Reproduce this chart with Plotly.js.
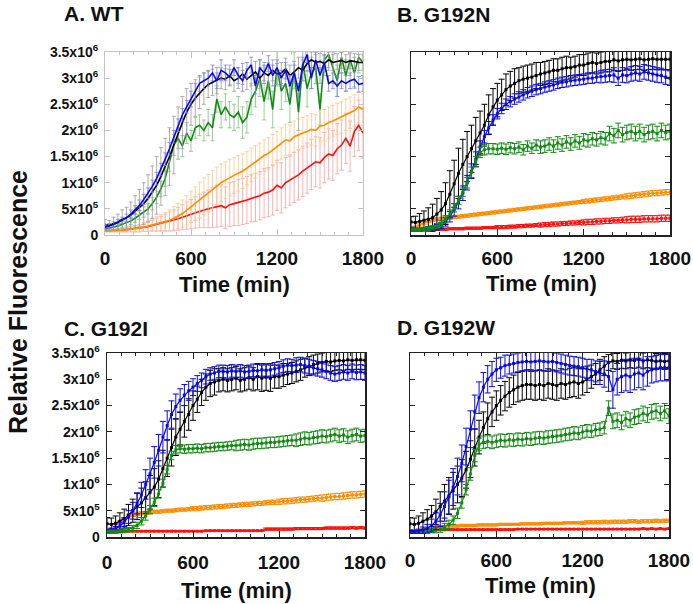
<!DOCTYPE html>
<html>
<head>
<meta charset="utf-8">
<script src="https://cdn.plot.ly/plotly-3.0.1.min.js"></script>
<style>html,body{margin:0;padding:0;background:#fff;}#chart{width:693px;height:604px;}</style>
</head>
<body>
<div id="chart"></div>
<script>
// Time points (min)
const time = [0,30,60,90,120,150,180,210,240,270,300,330,360,390,420,450,480,510,540,570,600,630,660,690,720,750,780,810,840,870,900,930,960,990,1020,1050,1080,1110,1140,1170,1200,1230,1260,1290,1320,1350,1380,1410,1440,1470,1500,1530,1560,1590,1620,1650,1680,1710,1740,1770,1800];

// Relative fluorescence, in units of 10^6
// ---- Panel A: WT ----
const aBlack = [0.20,0.18,0.22,0.25,0.30,0.33,0.38,0.45,0.52,0.60, 0.70,0.82,0.95,1.12,1.30,1.50,1.72,1.95,2.15,2.35, 2.50,2.62,2.72,2.80,2.88,2.92,2.95,3.00,2.98,3.05, 2.95,3.00,3.08,2.98,3.05,3.12,3.00,3.10,3.05,3.15, 3.08,3.10,3.18,3.05,3.12,3.20,3.15,3.28,3.35,3.30, 3.32,3.28,3.35,3.30,3.32,3.34,3.30,3.33,3.32,3.30,3.30];
const aBlackErr = [0.10,0.10,0.12,0.15,0.18,0.20,0.25,0.30,0.35,0.40, 0.45,0.50,0.55,0.55,0.55,0.55,0.55,0.50,0.50,0.45, 0.40,0.35,0.30,0.30,0.25,0.25,0.25,0.20,0.20,0.20, 0.20,0.20,0.20,0.20,0.20,0.20,0.20,0.20,0.20,0.20, 0.20,0.20,0.20,0.20,0.20,0.20,0.20,0.15,0.15,0.15, 0.15,0.15,0.15,0.15,0.15,0.15,0.15,0.15,0.15,0.15,0.15];
const aBlue = [0.15,0.17,0.20,0.24,0.28,0.33,0.40,0.48,0.57,0.68, 0.80,0.93,1.08,1.25,1.45,1.65,1.88,2.10,2.30,2.45, 2.60,2.75,2.90,2.95,3.00,3.10,2.95,3.15,3.10,3.02, 3.20,3.05,2.95,3.15,3.25,2.85,3.20,3.10,3.28,3.05, 3.20,3.00,3.15,2.85,3.10,2.75,3.25,3.45,3.00,3.35, 3.05,3.30,2.90,2.95,2.85,2.95,2.90,2.95,2.98,2.88,2.90];
const aBlueErr = [0.05,0.05,0.05,0.06,0.06,0.07,0.08,0.08,0.10,0.10, 0.10,0.12,0.12,0.12,0.12,0.12,0.12,0.12,0.12,0.12, 0.15,0.15,0.15,0.15,0.15,0.15,0.15,0.20,0.15,0.15, 0.15,0.15,0.20,0.15,0.15,0.15,0.15,0.15,0.15,0.20, 0.15,0.15,0.15,0.20,0.15,0.15,0.15,0.15,0.20,0.15, 0.15,0.15,0.15,0.15,0.20,0.15,0.15,0.15,0.15,0.15,0.15];
const aGreen = [0.12,0.13,0.15,0.17,0.20,0.23,0.27,0.32,0.38,0.44, 0.50,0.60,0.72,0.88,1.08,1.40,1.72,1.85,1.70,1.95, 1.80,2.05,2.10,2.00,2.15,2.05,2.60,2.30,2.45,2.30, 2.25,2.35,2.15,2.25,2.60,2.75,3.00,2.55,2.95,2.40, 3.20,2.75,2.90,2.50,3.15,2.35,3.30,2.80,3.10,3.20, 2.40,3.35,3.45,3.20,2.95,3.40,3.05,3.35,3.10,3.40,3.30];
const aGreenErr = [0.05,0.05,0.05,0.05,0.06,0.06,0.07,0.08,0.08,0.10, 0.10,0.12,0.12,0.15,0.15,0.18,0.20,0.20,0.20,0.20, 0.20,0.20,0.20,0.20,0.25,0.25,0.25,0.25,0.25,0.25, 0.25,0.30,0.30,0.30,0.30,0.30,0.35,0.35,0.35,0.35, 0.35,0.35,0.35,0.35,0.35,0.35,0.35,0.35,0.30,0.30, 0.30,0.30,0.30,0.30,0.30,0.30,0.30,0.30,0.30,0.30,0.30];
const aOrange = [0.08,0.08,0.08,0.09,0.09,0.10,0.11,0.12,0.13,0.15, 0.17,0.19,0.21,0.23,0.25,0.28,0.32,0.36,0.41,0.47, 0.54,0.60,0.67,0.74,0.80,0.87,0.94,1.00,1.05,1.10, 1.14,1.18,1.22,1.28,1.34,1.40,1.46,1.52,1.56,1.62, 1.68,1.75,1.82,1.80,1.88,1.92,1.95,1.98,2.02,2.00, 2.08,2.10,2.15,2.18,2.22,2.25,2.30,2.34,2.38,2.45,2.40];
const aOrangeErr = [0.02,0.02,0.02,0.03,0.03,0.04,0.05,0.06,0.07,0.08, 0.10,0.12,0.14,0.16,0.18,0.20,0.22,0.24,0.26,0.28, 0.30,0.32,0.34,0.35,0.36,0.36,0.36,0.36,0.35,0.35, 0.34,0.34,0.33,0.32,0.32,0.31,0.30,0.30,0.30,0.30, 0.30,0.30,0.30,0.30,0.30,0.30,0.30,0.30,0.30,0.30, 0.30,0.30,0.30,0.30,0.30,0.30,0.30,0.30,0.30,0.30,0.30];
const aRed = [0.08,0.08,0.08,0.09,0.09,0.10,0.11,0.12,0.13,0.15, 0.16,0.18,0.20,0.22,0.24,0.26,0.28,0.31,0.34,0.37, 0.40,0.43,0.46,0.48,0.50,0.52,0.55,0.56,0.52,0.58, 0.60,0.62,0.64,0.67,0.70,0.72,0.75,0.80,0.82,0.86, 0.95,0.90,1.00,1.05,1.10,1.15,1.22,1.28,1.35,1.40, 1.38,1.48,1.55,1.52,1.65,1.72,1.85,1.70,1.98,2.10,1.95];
const aRedErr = [0.02,0.02,0.02,0.03,0.03,0.04,0.05,0.06,0.07,0.08, 0.09,0.10,0.12,0.14,0.16,0.18,0.20,0.22,0.24,0.26, 0.28,0.30,0.32,0.34,0.36,0.38,0.40,0.40,0.40,0.42, 0.42,0.44,0.44,0.45,0.45,0.46,0.46,0.47,0.47,0.48, 0.48,0.48,0.48,0.48,0.48,0.48,0.48,0.48,0.48,0.48, 0.48,0.48,0.48,0.48,0.48,0.48,0.48,0.48,0.48,0.48,0.48];

// ---- Panel B: G192N ----
const bBlack = [0.25,0.24,0.26,0.28,0.30,0.33,0.40,0.48,0.60,0.78, 0.98,1.18,1.35,1.50,1.65,1.80,1.95,2.10,2.30,2.45, 2.58,2.68,2.78,2.85,2.90,2.95,2.98,3.00,3.02,3.05, 3.08,3.10,3.12,3.15,3.15,3.18,3.20,3.20,3.22,3.25, 3.25,3.28,3.30,3.28,3.30,3.32,3.32,3.35,3.33,3.35, 3.36,3.35,3.36,3.37,3.35,3.36,3.37,3.36,3.36,3.36,3.36];
const bBlackErr = [0.10,0.12,0.15,0.18,0.22,0.26,0.30,0.35,0.40,0.45, 0.45,0.48,0.48,0.48,0.45,0.45,0.42,0.40,0.38,0.35, 0.32,0.30,0.30,0.28,0.28,0.25,0.25,0.25,0.25,0.25, 0.22,0.22,0.22,0.22,0.22,0.22,0.22,0.20,0.20,0.20, 0.20,0.20,0.20,0.20,0.20,0.20,0.20,0.20,0.20,0.20, 0.20,0.20,0.20,0.20,0.20,0.20,0.20,0.20,0.20,0.20,0.20];
const bBlue = [0.10,0.10,0.10,0.11,0.12,0.13,0.15,0.18,0.25,0.35, 0.48,0.62,0.80,1.00,1.22,1.45,1.68,1.88,2.05,2.20, 2.32,2.42,2.50,2.55,2.60,2.64,2.68,2.72,2.75,2.78, 2.80,2.83,2.85,2.87,2.90,2.92,2.93,2.95,2.96,2.97, 2.98,3.00,3.00,3.02,3.03,3.04,3.05,3.06,3.00,3.06, 3.05,3.08,3.10,3.08,3.12,3.10,3.08,3.06,3.05,3.02,3.00];
const bBlueErr = [0.03,0.03,0.03,0.03,0.04,0.04,0.05,0.06,0.08,0.10, 0.12,0.12,0.14,0.14,0.14,0.14,0.12,0.12,0.12,0.10, 0.10,0.10,0.10,0.10,0.10,0.10,0.10,0.10,0.10,0.10, 0.10,0.10,0.10,0.10,0.10,0.10,0.10,0.10,0.10,0.10, 0.10,0.10,0.10,0.10,0.12,0.12,0.12,0.14,0.14,0.14, 0.14,0.14,0.14,0.14,0.14,0.14,0.14,0.14,0.14,0.14,0.14];
const bGreen = [0.10,0.10,0.10,0.11,0.12,0.14,0.17,0.22,0.30,0.40, 0.52,0.66,0.82,1.00,1.20,1.40,1.58,1.63,1.65,1.65, 1.64,1.66,1.64,1.67,1.65,1.68,1.63,1.70,1.66,1.72, 1.68,1.70,1.74,1.70,1.76,1.72,1.78,1.74,1.80,1.76, 1.82,1.80,1.84,1.82,1.86,1.84,1.94,1.90,2.00,1.92, 1.96,1.98,1.94,1.98,1.92,1.96,1.98,1.94,2.00,1.96,1.98];
const bGreenErr = [0.03,0.03,0.03,0.03,0.04,0.04,0.05,0.06,0.07,0.08, 0.08,0.08,0.08,0.10,0.10,0.10,0.10,0.10,0.10,0.10, 0.10,0.10,0.10,0.10,0.10,0.10,0.10,0.10,0.10,0.10, 0.12,0.12,0.12,0.12,0.12,0.12,0.12,0.12,0.12,0.12, 0.12,0.12,0.12,0.12,0.12,0.12,0.14,0.14,0.14,0.14, 0.14,0.14,0.14,0.14,0.14,0.14,0.14,0.14,0.14,0.14,0.14];
const bOrange = [0.12,0.15,0.19,0.23,0.27,0.29,0.30,0.31,0.32,0.33, 0.34,0.35,0.36,0.37,0.38,0.39,0.40,0.41,0.42,0.43, 0.44,0.45,0.46,0.47,0.48,0.49,0.50,0.51,0.52,0.53, 0.54,0.55,0.56,0.57,0.58,0.59,0.60,0.61,0.62,0.63, 0.64,0.65,0.66,0.67,0.68,0.69,0.70,0.71,0.72,0.73, 0.74,0.75,0.76,0.77,0.78,0.79,0.80,0.80,0.81,0.82,0.82];
const bOrangeErr = [0.02,0.02,0.02,0.02,0.03,0.03,0.03,0.03,0.03,0.03, 0.03,0.03,0.03,0.03,0.03,0.03,0.03,0.03,0.03,0.03, 0.03,0.03,0.03,0.03,0.03,0.03,0.03,0.03,0.03,0.03, 0.03,0.03,0.03,0.03,0.03,0.03,0.03,0.03,0.03,0.03, 0.04,0.04,0.04,0.04,0.04,0.04,0.04,0.04,0.04,0.04, 0.05,0.05,0.05,0.05,0.05,0.05,0.05,0.05,0.05,0.05,0.05];
const bRed = [0.10,0.10,0.10,0.10,0.10,0.11,0.11,0.11,0.11,0.12, 0.12,0.12,0.12,0.13,0.13,0.13,0.13,0.14,0.14,0.14, 0.15,0.15,0.15,0.16,0.16,0.17,0.17,0.18,0.18,0.19, 0.19,0.20,0.20,0.21,0.21,0.22,0.22,0.23,0.23,0.24, 0.24,0.25,0.25,0.26,0.26,0.27,0.27,0.28,0.28,0.29, 0.29,0.30,0.30,0.30,0.31,0.31,0.31,0.31,0.32,0.32,0.32];
const bRedErr = [0.02,0.02,0.02,0.02,0.02,0.02,0.02,0.02,0.02,0.02, 0.02,0.02,0.02,0.02,0.02,0.02,0.02,0.02,0.02,0.02, 0.03,0.03,0.03,0.03,0.03,0.03,0.03,0.03,0.03,0.03, 0.04,0.04,0.04,0.04,0.04,0.04,0.04,0.04,0.04,0.04, 0.05,0.05,0.05,0.05,0.05,0.05,0.05,0.05,0.05,0.05, 0.06,0.06,0.06,0.06,0.06,0.06,0.06,0.06,0.06,0.06,0.06];

// ---- Panel C: G192I ----
const cBlack = [0.25,0.24,0.26,0.30,0.35,0.42,0.50,0.58,0.65,0.75, 0.85,0.95,1.10,1.30,1.50,1.70,1.90,2.05,2.20,2.33, 2.50,2.62,2.75,2.85,2.92,2.95,2.98,3.00,2.98,3.00, 3.02,2.98,3.00,3.03,3.00,3.05,3.02,3.04,3.02,3.05, 3.05,3.08,3.10,3.12,3.15,3.18,3.22,3.25,3.28,3.30, 3.32,3.34,3.33,3.35,3.36,3.35,3.37,3.36,3.37,3.37,3.36];
const cBlackErr = [0.12,0.12,0.14,0.16,0.18,0.20,0.22,0.25,0.28,0.30, 0.32,0.35,0.35,0.35,0.35,0.35,0.35,0.32,0.30,0.30, 0.28,0.25,0.25,0.25,0.25,0.25,0.22,0.22,0.22,0.22, 0.22,0.22,0.22,0.22,0.22,0.25,0.25,0.25,0.25,0.22, 0.22,0.22,0.20,0.20,0.20,0.20,0.18,0.18,0.18,0.18, 0.18,0.18,0.18,0.18,0.18,0.18,0.18,0.18,0.18,0.18,0.18];
const cBlue = [0.12,0.13,0.16,0.21,0.28,0.38,0.50,0.64,0.80,1.00, 1.20,1.42,1.65,1.90,2.12,2.33,2.48,2.60,2.70,2.78, 2.85,2.92,2.98,3.05,3.10,3.12,3.15,3.15,3.14,3.16, 3.15,3.16,3.14,3.15,3.17,3.16,3.18,3.17,3.18,3.20, 3.22,3.25,3.27,3.26,3.27,3.28,3.26,3.24,3.22,3.20, 3.18,3.15,3.12,3.10,3.12,3.14,3.12,3.15,3.13,3.14,3.12];
const cBlueErr = [0.03,0.03,0.04,0.06,0.08,0.12,0.16,0.20,0.24,0.28, 0.30,0.30,0.30,0.30,0.28,0.26,0.24,0.22,0.20,0.18, 0.16,0.15,0.14,0.14,0.12,0.12,0.12,0.12,0.12,0.12, 0.12,0.12,0.12,0.12,0.12,0.12,0.12,0.12,0.12,0.12, 0.12,0.12,0.12,0.12,0.14,0.14,0.14,0.14,0.14,0.14, 0.14,0.14,0.14,0.14,0.14,0.14,0.14,0.14,0.14,0.14,0.14];
const cGreen = [0.10,0.10,0.10,0.11,0.12,0.14,0.17,0.22,0.30,0.40, 0.52,0.66,0.82,1.02,1.28,1.55,1.66,1.68,1.67,1.68, 1.68,1.69,1.68,1.70,1.70,1.71,1.72,1.72,1.73,1.74, 1.74,1.75,1.76,1.75,1.77,1.78,1.78,1.79,1.80,1.80, 1.81,1.82,1.83,1.84,1.84,1.86,1.88,1.87,1.89,1.90, 1.92,1.91,1.93,1.95,1.92,1.94,1.90,1.93,1.95,1.92,1.93];
const cGreenErr = [0.03,0.03,0.03,0.03,0.04,0.04,0.05,0.06,0.07,0.08, 0.08,0.08,0.08,0.08,0.08,0.08,0.08,0.08,0.08,0.08, 0.08,0.08,0.08,0.08,0.08,0.08,0.08,0.08,0.08,0.08, 0.10,0.10,0.10,0.10,0.10,0.10,0.10,0.10,0.10,0.10, 0.10,0.10,0.10,0.10,0.12,0.12,0.12,0.12,0.12,0.12, 0.12,0.12,0.12,0.12,0.12,0.12,0.12,0.12,0.12,0.12,0.12];
const cOrange = [0.12,0.16,0.22,0.28,0.34,0.39,0.42,0.44,0.45,0.46, 0.47,0.48,0.48,0.49,0.50,0.50,0.51,0.52,0.52,0.53, 0.54,0.54,0.55,0.56,0.56,0.57,0.58,0.58,0.59,0.60, 0.60,0.61,0.62,0.62,0.63,0.64,0.64,0.65,0.66,0.66, 0.67,0.68,0.68,0.69,0.70,0.71,0.71,0.72,0.73,0.74, 0.74,0.75,0.76,0.77,0.77,0.78,0.79,0.80,0.80,0.81,0.82];
const cOrangeErr = [0.02,0.02,0.02,0.03,0.03,0.03,0.03,0.03,0.03,0.03, 0.03,0.03,0.03,0.03,0.03,0.03,0.03,0.03,0.03,0.03, 0.04,0.04,0.04,0.04,0.04,0.04,0.04,0.04,0.04,0.04, 0.04,0.04,0.04,0.04,0.04,0.04,0.04,0.04,0.04,0.04, 0.05,0.05,0.05,0.05,0.05,0.05,0.05,0.05,0.05,0.05, 0.06,0.06,0.06,0.06,0.06,0.06,0.06,0.06,0.06,0.06,0.06];
const cRed = [0.10,0.10,0.10,0.10,0.11,0.11,0.11,0.11,0.11,0.11, 0.11,0.11,0.11,0.11,0.11,0.11,0.11,0.11,0.11,0.11, 0.11,0.11,0.11,0.12,0.12,0.12,0.12,0.12,0.12,0.12, 0.12,0.12,0.12,0.12,0.12,0.12,0.12,0.15,0.15,0.15, 0.15,0.15,0.15,0.15,0.16,0.16,0.16,0.16,0.16,0.16, 0.16,0.17,0.17,0.17,0.17,0.17,0.17,0.18,0.17,0.18,0.17];
const cRedErr = [0.01,0.01,0.01,0.01,0.01,0.01,0.01,0.01,0.01,0.01, 0.01,0.01,0.01,0.01,0.01,0.01,0.01,0.01,0.01,0.01, 0.01,0.01,0.01,0.01,0.01,0.01,0.01,0.01,0.01,0.01, 0.01,0.01,0.01,0.01,0.01,0.01,0.01,0.02,0.02,0.02, 0.02,0.02,0.02,0.02,0.02,0.02,0.02,0.02,0.02,0.02, 0.02,0.02,0.02,0.02,0.02,0.02,0.02,0.02,0.02,0.02,0.02];

// ---- Panel D: G192W ----
const dBlack = [0.25,0.24,0.26,0.30,0.34,0.40,0.48,0.58,0.68,0.78, 0.88,1.00,1.12,1.28,1.48,1.70,1.90,2.08,2.25,2.38, 2.50,2.60,2.68,2.75,2.80,2.85,2.88,2.90,2.90,2.88, 2.90,2.88,2.92,2.90,2.88,2.92,2.90,2.93,2.95,2.92, 2.95,3.00,3.05,3.10,3.18,3.25,3.32,3.35,3.34,3.36, 3.35,3.37,3.36,3.38,3.35,3.37,3.36,3.34,3.35,3.34,3.35];
const dBlackErr = [0.12,0.12,0.14,0.16,0.18,0.20,0.24,0.28,0.32,0.35, 0.35,0.35,0.35,0.35,0.35,0.35,0.32,0.30,0.30,0.28, 0.28,0.28,0.28,0.28,0.28,0.28,0.28,0.28,0.28,0.28, 0.28,0.28,0.28,0.28,0.28,0.28,0.28,0.28,0.28,0.28, 0.25,0.25,0.22,0.20,0.20,0.18,0.15,0.15,0.15,0.15, 0.15,0.15,0.15,0.15,0.15,0.15,0.15,0.15,0.15,0.15,0.15];
const dBlue = [0.10,0.10,0.11,0.13,0.16,0.22,0.30,0.42,0.58,0.76, 0.95,1.15,1.40,1.72,2.05,2.38,2.65,2.85,3.00,3.10, 3.18,3.22,3.26,3.28,3.30,3.32,3.33,3.34,3.33,3.34, 3.35,3.34,3.33,3.34,3.32,3.30,3.28,3.26,3.25,3.24, 3.22,3.20,3.18,3.15,3.12,3.10,3.05,2.80,3.00,3.05, 3.08,3.05,3.10,3.12,3.08,3.15,3.18,3.20,3.22,3.22,3.22];
const dBlueErr = [0.03,0.03,0.04,0.06,0.08,0.12,0.16,0.22,0.28,0.32, 0.35,0.35,0.35,0.35,0.35,0.32,0.30,0.28,0.26,0.24, 0.22,0.20,0.20,0.18,0.18,0.18,0.18,0.18,0.18,0.18, 0.18,0.18,0.18,0.18,0.18,0.18,0.18,0.18,0.18,0.18, 0.18,0.18,0.20,0.20,0.22,0.25,0.28,0.35,0.30,0.30, 0.30,0.30,0.30,0.28,0.28,0.28,0.25,0.25,0.25,0.25,0.25];
const dGreen = [0.10,0.10,0.10,0.10,0.11,0.12,0.13,0.15,0.19,0.24, 0.32,0.45,0.65,0.90,1.20,1.55,1.76,1.80,1.82,1.80, 1.82,1.84,1.83,1.85,1.84,1.86,1.85,1.87,1.86,1.88, 1.89,1.88,1.90,1.91,1.92,1.93,1.95,1.96,1.98,1.97, 2.00,2.02,2.01,2.04,2.05,2.08,2.45,2.20,2.22,2.18, 2.25,2.22,2.28,2.30,2.35,2.32,2.38,2.40,2.35,2.40,2.30];
const dGreenErr = [0.03,0.03,0.03,0.03,0.04,0.04,0.05,0.06,0.07,0.08, 0.08,0.10,0.10,0.10,0.12,0.12,0.12,0.12,0.12,0.12, 0.12,0.12,0.12,0.12,0.12,0.12,0.12,0.12,0.12,0.12, 0.12,0.12,0.12,0.12,0.12,0.12,0.12,0.12,0.12,0.12, 0.12,0.12,0.12,0.12,0.12,0.12,0.14,0.14,0.14,0.14, 0.14,0.14,0.14,0.14,0.14,0.14,0.14,0.14,0.14,0.14,0.14];
const dOrange = [0.10,0.10,0.11,0.13,0.16,0.18,0.19,0.20,0.20,0.21, 0.21,0.21,0.22,0.22,0.22,0.22,0.23,0.23,0.23,0.23, 0.23,0.24,0.24,0.24,0.24,0.24,0.25,0.25,0.25,0.25, 0.25,0.26,0.26,0.26,0.26,0.26,0.27,0.27,0.27,0.27, 0.27,0.28,0.28,0.28,0.28,0.29,0.28,0.29,0.29,0.29, 0.29,0.30,0.30,0.29,0.30,0.30,0.30,0.31,0.30,0.31,0.31];
const dOrangeErr = [0.01,0.01,0.01,0.02,0.02,0.02,0.02,0.02,0.02,0.02, 0.02,0.02,0.02,0.02,0.02,0.02,0.02,0.02,0.02,0.02, 0.02,0.02,0.02,0.02,0.02,0.02,0.02,0.02,0.02,0.02, 0.02,0.02,0.02,0.02,0.02,0.02,0.02,0.02,0.02,0.02, 0.03,0.03,0.03,0.03,0.03,0.03,0.03,0.03,0.03,0.03, 0.03,0.03,0.03,0.03,0.03,0.03,0.03,0.03,0.03,0.03,0.03];
const dRed = [0.10,0.10,0.11,0.12,0.13,0.14,0.14,0.14,0.14,0.14, 0.14,0.14,0.14,0.14,0.14,0.14,0.14,0.14,0.14,0.14, 0.14,0.14,0.14,0.14,0.14,0.15,0.15,0.15,0.15,0.15, 0.15,0.15,0.15,0.15,0.15,0.15,0.15,0.15,0.15,0.15, 0.15,0.15,0.15,0.15,0.15,0.15,0.15,0.15,0.15,0.15, 0.15,0.15,0.15,0.15,0.16,0.15,0.16,0.15,0.16,0.15,0.16];
const dRedErr = [0.01,0.01,0.01,0.01,0.01,0.01,0.01,0.01,0.01,0.01, 0.01,0.01,0.01,0.01,0.01,0.01,0.01,0.01,0.01,0.01, 0.01,0.01,0.01,0.01,0.01,0.01,0.01,0.01,0.01,0.01, 0.01,0.01,0.01,0.01,0.01,0.01,0.01,0.01,0.01,0.01, 0.01,0.01,0.01,0.01,0.01,0.01,0.01,0.01,0.01,0.01, 0.01,0.01,0.01,0.01,0.01,0.01,0.01,0.01,0.01,0.01,0.01];

// Labels
const panelTitles = ['A. WT', 'B. G192N', 'C. G192I', 'D. G192W'];
const xTickVals = [0, 600, 1200, 1800];
const xTickText = ['0', '600', '1200', '1800'];
const yTickVals = [0, 0.5, 1, 1.5, 2, 2.5, 3, 3.5];
const yTickText = ['0', '5x10<sup>5</sup>', '1x10<sup>6</sup>', '1.5x10<sup>6</sup>', '2x10<sup>6</sup>', '2.5x10<sup>6</sup>', '3x10<sup>6</sup>', '3.5x10<sup>6</sup>'];
const xTitle = 'Time (min)';
const yTitle = 'Relative Fluorescence';

const FONT = 'Arial, "Liberation Sans", sans-serif';
const W = 693, H = 604;

const colors = {black: '#000000', blue: '#0a0ae0', green: '#138a13', orange: '#ff8c00', red: '#ff1010'};
const lightColors = {black: '#9a9a9a', blue: '#7f7ff0', green: '#7fc07f', orange: '#ffc58a', red: '#ff9c9c'};

const panels = [
  {series: {red: [aRed, aRedErr], orange: [aOrange, aOrangeErr], green: [aGreen, aGreenErr], black: [aBlack, aBlackErr], blue: [aBlue, aBlueErr]}, light: true},
  {series: {red: [bRed, bRedErr], orange: [bOrange, bOrangeErr], black: [bBlack, bBlackErr], blue: [bBlue, bBlueErr], green: [bGreen, bGreenErr]}, light: false},
  {series: {red: [cRed, cRedErr], orange: [cOrange, cOrangeErr], black: [cBlack, cBlackErr], blue: [cBlue, cBlueErr], green: [cGreen, cGreenErr]}, light: false},
  {series: {red: [dRed, dRedErr], orange: [dOrange, dOrangeErr], black: [dBlack, dBlackErr], green: [dGreen, dGreenErr], blue: [dBlue, dBlueErr]}, light: false}
];

// pixel boxes [x0, x1, yTop, yBottom]
const boxes = [[105, 363, 52, 235], [411, 670, 52, 235], [107, 365, 353, 537], [410, 669, 353, 537]];
const xLabelStandoff = [6, 6, 8, 6];

const traces = [];
panels.forEach((p, i) => {
  const xa = i === 0 ? 'x' : 'x' + (i + 1);
  const ya = i === 0 ? 'y' : 'y' + (i + 1);
  Object.keys(p.series).forEach(name => {
    const [vals, errs] = p.series[name];
    traces.push({
      type: 'scatter', x: time, y: vals, xaxis: xa, yaxis: ya,
      mode: p.light ? 'lines' : 'lines+markers',
      line: {color: colors[name], width: p.light ? 1.6 : 1.2},
      marker: {color: colors[name], size: 3, symbol: 'square'},
      error_y: {type: 'data', array: errs, visible: true,
        color: p.light ? lightColors[name] : colors[name],
        thickness: p.light ? 0.8 : 1, width: p.light ? 2 : 3},
      showlegend: false, hoverinfo: 'skip', cliponaxis: true
    });
  });
});

const layout = {
  width: W, height: H,
  margin: {l: 0, r: 0, t: 0, b: 0},
  paper_bgcolor: '#ffffff', plot_bgcolor: '#ffffff',
  font: {family: FONT, color: '#000'},
  showlegend: false,
  annotations: []
};

boxes.forEach((b, i) => {
  const suf = i === 0 ? '' : String(i + 1);
  const lc = i === 0 ? '#c4c4c4' : '#222222';
  const lw = i === 0 ? 1 : 1.5;
  layout['xaxis' + suf] = {
    domain: [b[0] / W, b[1] / W], anchor: 'y' + suf,
    range: [0, 1800], tickvals: xTickVals, ticktext: xTickText,
    ticks: 'inside', ticklen: 6, tickwidth: 1, tickcolor: lc,
    minor: {dtick: 100, tick0: 0, ticks: 'inside', ticklen: 3, tickcolor: lc, showgrid: false},
    showline: true, linecolor: lc, linewidth: lw, mirror: 'ticks',
    showgrid: false, zeroline: false, ticklabelstandoff: xLabelStandoff[i],
    tickfont: {family: FONT, size: 19, weight: 'bold', color: '#111'}
  };
  layout['yaxis' + suf] = {
    domain: [1 - b[3] / H, 1 - b[2] / H], anchor: 'x' + suf,
    range: [0, 3.5], tickvals: yTickVals, ticktext: yTickText,
    showticklabels: (i === 0 || i === 2),
    ticks: 'inside', ticklen: 5, tickwidth: 1, tickcolor: lc,
    showline: true, linecolor: lc, linewidth: lw, mirror: 'ticks',
    showgrid: false, zeroline: false, ticklabelstandoff: 3,
    tickfont: {family: FONT, size: 14, weight: 'bold', color: '#111'}
  };
});

// panel titles
const titlePos = [[62, 13], [395, 14], [62, 328], [395, 327]];
titlePos.forEach((tp, i) => {
  layout.annotations.push({text: panelTitles[i], xref: 'paper', yref: 'paper',
    x: tp[0] / W, y: 1 - tp[1] / H, xanchor: 'left', yanchor: 'middle', showarrow: false,
    font: {family: FONT, size: 21, weight: 'bold', color: '#111'}});
});
// x axis titles
const xtPos = [[234, 284], [541, 283], [236, 590], [540, 585]];
xtPos.forEach(tp => {
  layout.annotations.push({text: xTitle, xref: 'paper', yref: 'paper',
    x: tp[0] / W, y: 1 - tp[1] / H, xanchor: 'center', yanchor: 'middle', showarrow: false,
    font: {family: FONT, size: 22, weight: 'bold', color: '#111'}});
});
// shared y title
layout.annotations.push({text: yTitle, xref: 'paper', yref: 'paper',
  x: 18 / W, y: 1 - 302 / H, xanchor: 'center', yanchor: 'middle', textangle: -90, showarrow: false,
  font: {family: FONT, size: 25, weight: 'bold', color: '#111'}});

Plotly.newPlot('chart', traces, layout, {staticPlot: true, displayModeBar: false});
</script>
</body>
</html>
